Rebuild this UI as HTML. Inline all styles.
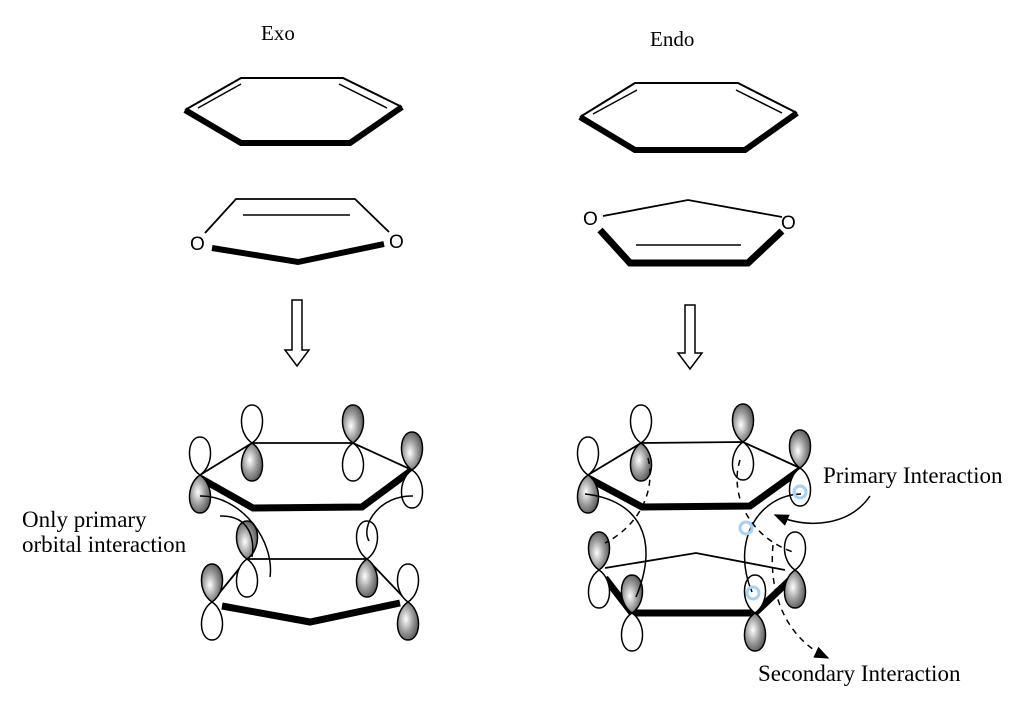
<!DOCTYPE html>
<html><head><meta charset="utf-8"><style>body{margin:0;background:#fff}svg{display:block}</style></head><body>
<svg width="1018" height="716" viewBox="0 0 1018 716" xmlns="http://www.w3.org/2000/svg">
<defs>
<radialGradient id="g" cx="0.4" cy="0.55" r="0.7"><stop offset="0" stop-color="#fff"/><stop offset="0.5" stop-color="#999"/><stop offset="1" stop-color="#444"/></radialGradient>
<path id="up" d="M0,0 C-15,-10 -13,-38 0,-38 C13,-38 15,-10 0,0Z" stroke="#000" stroke-width="1.5"/>
<marker id="ah" markerWidth="10" markerHeight="8" refX="9" refY="4" orient="auto"><path d="M0,0 L10,4 L0,8 Z" fill="#000"/></marker>
</defs>
<g font-family="Liberation Serif, serif" font-size="23" fill="#000">
<text x="261" y="40" font-size="21">Exo</text>
<text x="650" y="46" font-size="21">Endo</text>
<text x="22" y="527">Only primary</text>
<text x="22" y="552">orbital interaction</text>
<text x="823" y="483">Primary Interaction</text>
<text x="758" y="681">Secondary Interaction</text>
</g>
<g stroke="#000" fill="none" stroke-linejoin="miter">
<path d="M185,110 L241,78 L343,78 L402,107" stroke-width="2"/>
<path d="M198,108 L241,84 M339,84 L387,108" stroke-width="1.5"/>
<path d="M185,110 L241,143 L350,143 L402,107" stroke-width="6"/>
<path d="M205,233 L236,199 L355,199 L389,232" stroke-width="1.8"/>
<path d="M243,215 L350,215" stroke-width="1.5"/>
<path d="M212,248 L298,262 L384,244" stroke-width="6"/>
<path d="M580,117 L635,83 L738,83 L797,113" stroke-width="2"/>
<path d="M593,114 L637,90 M736,90 L782,113" stroke-width="1.5"/>
<path d="M580,117 L635,150 L745,150 L797,113" stroke-width="6"/>
<path d="M603,216 L688,200 L782,217" stroke-width="1.8"/>
<path d="M600,230 L630,263 L748,263 L782,231" stroke-width="7"/>
<path d="M636,245 L741,245" stroke-width="1.5"/>
<path d="M292,300 L302,300 L302,350 L309,350 L297,366 L285,350 L292,350 Z" stroke-width="1.5"/>
<path d="M685,305 L695,305 L695,353 L702,353 L690,369 L678,353 L685,353 Z" stroke-width="1.5"/>
</g>
<g font-family="Liberation Sans, sans-serif" font-size="19">
<text x="190" y="250">O</text><text x="389" y="248">O</text>
<text x="583" y="225">O</text><text x="781" y="229">O</text>
</g>
<g stroke="#000" fill="none">
<path d="M200,475 L252,443 L353,443 L412,470" stroke-width="1.8"/>
<path d="M200,478 L253,508 L362,507 L412,470" stroke-width="7"/>
<path d="M247,559 L367,559 M247,559 L212,602 M367,559 L408,602" stroke-width="1.8"/>
<path d="M222,606 L310,622 L400,603" stroke-width="7"/>
<path d="M588,475 L641,443 L743,442 L800,468" stroke-width="1.8"/>
<path d="M588,478 L642,507 L750,506 L800,470" stroke-width="7"/>
<path d="M605,568 L696,553 L785,570" stroke-width="1.8"/>
<path d="M605,578 L632,613 L755,613 L792,578" stroke-width="7"/>
</g>
<g>
<use href="#up" transform="translate(200,475)" fill="#fff"/><use href="#up" transform="translate(200,475) scale(1,-1)" fill="url(#g)"/>
<use href="#up" transform="translate(252,443)" fill="#fff"/><use href="#up" transform="translate(252,443) scale(1,-1)" fill="url(#g)"/>
<use href="#up" transform="translate(353,443)" fill="url(#g)"/><use href="#up" transform="translate(353,443) scale(1,-1)" fill="#fff"/>
<use href="#up" transform="translate(412,470)" fill="url(#g)"/><use href="#up" transform="translate(412,470) scale(1,-1)" fill="#fff"/>
<use href="#up" transform="translate(247,559)" fill="url(#g)"/><use href="#up" transform="translate(247,559) scale(1,-1)" fill="#fff"/>
<use href="#up" transform="translate(367,559)" fill="#fff"/><use href="#up" transform="translate(367,559) scale(1,-1)" fill="url(#g)"/>
<use href="#up" transform="translate(212,602)" fill="url(#g)"/><use href="#up" transform="translate(212,602) scale(1,-1)" fill="#fff"/>
<use href="#up" transform="translate(408,602)" fill="#fff"/><use href="#up" transform="translate(408,602) scale(1,-1)" fill="url(#g)"/>
<use href="#up" transform="translate(588,475)" fill="#fff"/><use href="#up" transform="translate(588,475) scale(1,-1)" fill="url(#g)"/>
<use href="#up" transform="translate(641,443)" fill="#fff"/><use href="#up" transform="translate(641,443) scale(1,-1)" fill="url(#g)"/>
<use href="#up" transform="translate(743,442)" fill="url(#g)"/><use href="#up" transform="translate(743,442) scale(1,-1)" fill="#fff"/>
<use href="#up" transform="translate(800,468)" fill="url(#g)"/><use href="#up" transform="translate(800,468) scale(1,-1)" fill="#fff"/>
<use href="#up" transform="translate(599,570)" fill="url(#g)"/><use href="#up" transform="translate(599,570) scale(1,-1)" fill="#fff"/>
<use href="#up" transform="translate(795,570)" fill="#fff"/><use href="#up" transform="translate(795,570) scale(1,-1)" fill="url(#g)"/>
<use href="#up" transform="translate(632,613)" fill="url(#g)"/><use href="#up" transform="translate(632,613) scale(1,-1)" fill="#fff"/>
<use href="#up" transform="translate(755,613)" fill="#fff"/><use href="#up" transform="translate(755,613) scale(1,-1)" fill="url(#g)"/>
</g>
<g stroke="#000" fill="none" stroke-width="1.5">
<path d="M200,496 C240,495 275,540 270,577"/>
<path d="M220,516 C250,515 255,540 252,557"/>
<path d="M413,496 C380,495 360,525 369,541"/>
<path d="M585,494 C640,500 660,540 636,597"/>
<path d="M801,494 C760,495 730,540 752,592"/>
<path d="M648,458 C656,490 640,525 605,543" stroke-dasharray="6,5"/>
<path d="M740,460 C730,490 745,535 793,552" stroke-dasharray="6,5"/>
<path d="M773,545 C768,600 790,640 828,658" stroke-dasharray="6,5" marker-end="url(#ah)"/>
<path d="M870,496 C850,525 810,530 775,515" marker-end="url(#ah)"/>
</g>
<g stroke="#a8cff5" stroke-width="3" fill="none">
<circle cx="800" cy="492" r="6"/><circle cx="746" cy="528" r="6"/><circle cx="753" cy="593" r="6"/>
</g>
</svg>
</body></html>
